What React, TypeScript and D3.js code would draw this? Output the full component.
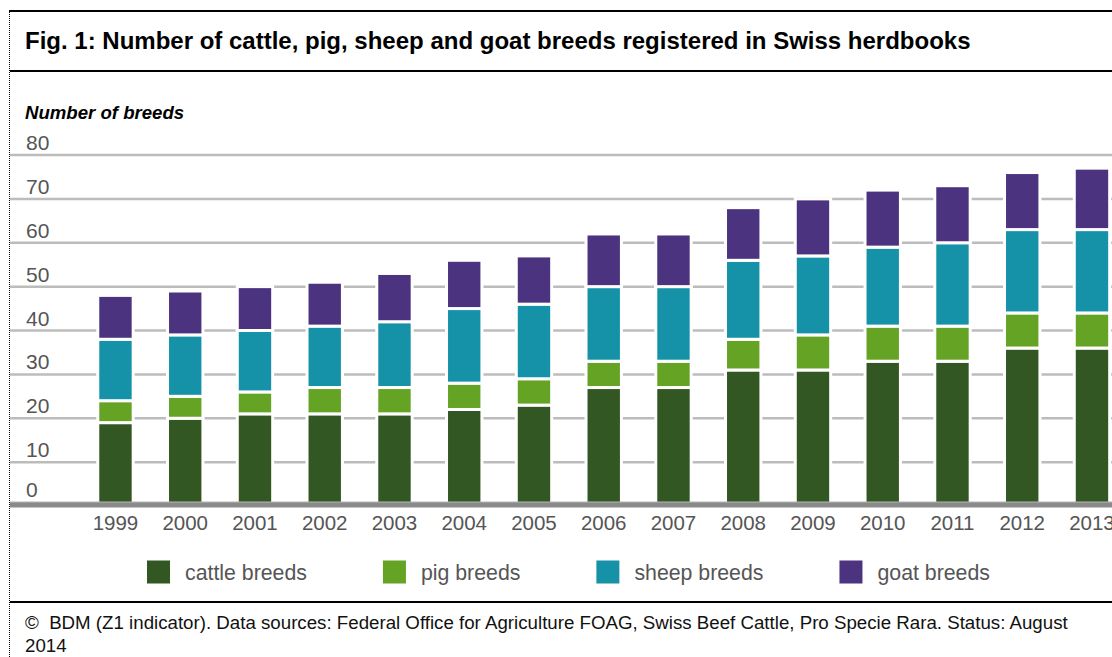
import React from "react";
import * as d3 from "d3";

const years = ["1999","2000","2001","2002","2003","2004","2005","2006","2007","2008","2009","2010","2011","2012","2013"];
const cattle = [19, 20, 21, 21, 21, 22, 23, 27, 27, 31, 31, 33, 33, 36, 36];
const pig = [5, 5, 5, 6, 6, 6, 6, 6, 6, 7, 8, 8, 8, 8, 8];
const sheep = [14, 14, 14, 14, 15, 17, 17, 17, 17, 18, 18, 18, 19, 19, 19];
const goat = [10, 10, 10, 10, 11, 11, 11, 12, 12, 12, 13, 13, 13, 13, 14];
const seriesNames = ["cattle breeds", "pig breeds", "sheep breeds", "goat breeds"];
const seriesColors = ["#325722", "#64a324", "#1592a8", "#4b337f"];
const yTicks = [0, 10, 20, 30, 40, 50, 60, 70, 80];

const W = 1112;
const H = 657;
const FONT = "'Liberation Sans', Arial, Helvetica, sans-serif";

function measure(text: string, font: string): number {
  if (typeof document === "undefined") return text.length * 10;
  const c = document.createElement("canvas");
  const ctx = c.getContext("2d");
  if (!ctx) return text.length * 10;
  ctx.font = font;
  return ctx.measureText(text).width;
}

export default function App() {
  const x = d3
    .scaleBand<string>()
    .domain(years)
    .range([80.6, 1126.85])
    .paddingInner(0.4925)
    .paddingOuter(0.24625);
  const y = d3.scaleLinear().domain([0, 80]).range([506, 155]);

  const rows = years.map((yr, i) => ({
    year: yr,
    cattle: cattle[i],
    pig: pig[i],
    sheep: sheep[i],
    goat: goat[i],
  }));
  const keys = ["cattle", "pig", "sheep", "goat"];
  const stacked = d3.stack<any>().keys(keys)(rows);

  // legend layout
  const legendSize = 21.3;
  const legendFont = `${legendSize}px ${FONT}`;
  const legendItems: { x: number; name: string; color: string }[] = [];
  let lx = 147;
  seriesNames.forEach((n, i) => {
    legendItems.push({ x: lx, name: n, color: seriesColors[i] });
    lx += 23 + 15 + measure(n, legendFont) + 76;
  });

  return (
    <svg
      width={W}
      height={H}
      style={{ position: "absolute", left: 0, top: 0, background: "#fff" }}
      fontFamily={FONT}
    >
      <rect x={0} y={0} width={W} height={H} fill="#fff" />
      {/* frame lines */}
      <line x1={9} x2={W} y1={11} y2={11} stroke="#000" strokeWidth={2} />
      <line x1={9.5} x2={9.5} y1={10} y2={H} stroke="#000" strokeWidth={1} strokeDasharray="1,1" />
      <line x1={10} x2={W} y1={71} y2={71} stroke="#000" strokeWidth={2} />
      <line x1={10} x2={W} y1={602} y2={602} stroke="#000" strokeWidth={2} />

      <text x={25} y={49} fontSize={24} fontWeight="bold" fill="#000">
        Fig. 1: Number of cattle, pig, sheep and goat breeds registered in Swiss herdbooks
      </text>

      <text x={25} y={119} fontSize={18.6} fontWeight="bold" fontStyle="italic" fill="#000">
        Number of breeds
      </text>

      {/* gridlines */}
      {yTicks.filter((t) => t > 0).map((t) => (
        <line key={t} x1={10} x2={W} y1={y(t)} y2={y(t)} stroke="#bcbcbc" strokeWidth={2.5} />
      ))}
      {yTicks.map((t) => (
        <text key={"l" + t} x={26} y={t === 0 ? y(t) - 9 : y(t) - 5} fontSize={21} fill="#555">
          {t}
        </text>
      ))}

      {/* bars */}
      {stacked.map((layer, li) => (
        <g key={layer.key} fill={seriesColors[li]}>
          {layer.map((d: any, i: number) => (
            <rect
              key={i}
              x={x(years[i])}
              width={x.bandwidth()}
              y={y(d[1])}
              height={y(d[0]) - y(d[1])}
              stroke="#fff"
              strokeWidth={3}
            />
          ))}
        </g>
      ))}

      {/* axis */}
      <rect x={10} y={502} width={W - 10} height={5.5} fill="#8a8a8a" />
      <rect x={10} y={501.5} width={W - 10} height={1} fill="#b5b5b5" />

      {years.map((yr) => (
        <text
          key={yr}
          x={(x(yr) as number) + x.bandwidth() / 2}
          y={530}
          fontSize={20.5}
          fill="#555"
          textAnchor="middle"
        >
          {yr}
        </text>
      ))}

      {/* legend */}
      {legendItems.map((it) => (
        <g key={it.name}>
          <rect x={it.x} y={560.5} width={23} height={23} fill={it.color} />
          <text x={it.x + 38} y={580} fontSize={legendSize} fill="#555">
            {it.name}
          </text>
        </g>
      ))}

      <text x={25} y={629} fontSize={18.7} fill="#111">
        {"©\u00a0 BDM (Z1 indicator). Data sources: Federal Office for Agriculture FOAG, Swiss Beef Cattle, Pro Specie Rara. Status: August"}
      </text>
      <text x={25} y={652} fontSize={18.7} fill="#111">
        2014
      </text>
    </svg>
  );
}
